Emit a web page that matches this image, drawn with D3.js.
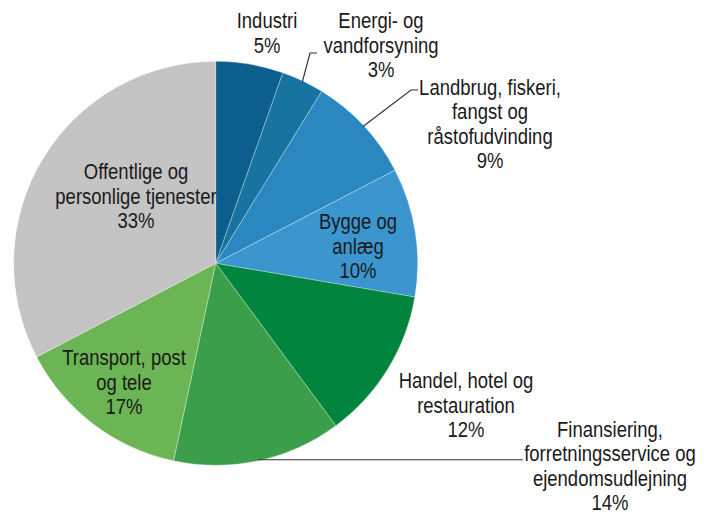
<!DOCTYPE html>
<html>
<head>
<meta charset="utf-8">
<script src="https://cdn.jsdelivr.net/npm/d3@7"></script>
<style>
  body { margin: 0; background: #fff; }
  text { font-family: "Liberation Sans", Arial, sans-serif; fill: #1a1a1a; }
</style>
</head>
<body>
<div id="chart"></div>
<script>
// sector names, printed percentages, and shares as drawn
let names = [
  ["Industri"],
  ["Energi- og", "vandforsyning"],
  ["Landbrug, fiskeri,", "fangst og", "råstofudvinding"],
  ["Bygge og", "anlæg"],
  ["Handel, hotel og", "restauration"],
  ["Finansiering,", "forretningsservice og", "ejendomsudlejning"],
  ["Transport, post", "og tele"],
  ["Offentlige og", "personlige tjenester"]
];
let pctLabels = ["5%", "3%", "9%", "10%", "12%", "14%", "17%", "33%"];
let shares = [5.4, 3.4, 8.6, 10.3, 12.2, 13.5, 14.0, 32.7];
let colors = ["#0b5e8e", "#17739f", "#2a87bf", "#3b96cf", "#00843e", "#3a9e4b", "#6bb554", "#c4c4c4"];

let w = 714, h = 515;
let cx = 215.7, cy = 263.3, r = 202;
let lineH = 24.5;
let squeeze = 0.86; // condensed look

// label block centres, and leader end points (null = no leader)
let labelAt = [[267, 33], [381, 45], [490, 124], [358, 246], [466, 405], [610, 466], [124, 382], [136, 196]];
let leaderEnd = [null, [317, 53], [418, 90], null, null, [523, 461], null, null];

let svg = d3.select("#chart").append("svg")
  .attr("width", w).attr("height", h);

let pie = d3.pie().sort(null).value(d => d);
let arcs = pie(shares);

let arc = d3.arc().innerRadius(0).outerRadius(r);
let edge = d3.arc().innerRadius(r - 1).outerRadius(r - 1);

let g = svg.append("g").attr("transform", `translate(${cx},${cy})`);

g.selectAll("path.slice")
  .data(arcs)
  .enter().append("path")
  .attr("class", "slice")
  .attr("d", arc)
  .attr("fill", (d, i) => colors[i])
  .attr("stroke", "rgba(255,255,255,0.5)")
  .attr("stroke-width", 0.6);

// leader lines
arcs.forEach((d, i) => {
  let end = leaderEnd[i];
  if (!end) return;
  let p = edge.centroid(d);
  let start = [p[0] + cx, p[1] + cy];
  let pts;
  if (Math.abs(end[1] - start[1]) < 3) {
    pts = [start, [end[0], start[1]]];
  } else {
    pts = [start, [end[0] - 7, end[1]], end];
  }
  svg.append("path")
    .attr("d", d3.line()(pts))
    .attr("fill", "none")
    .attr("stroke", "#333")
    .attr("stroke-width", 1.2);
});

// labels
names.forEach((lines, i) => {
  let all = lines.concat([pctLabels[i]]);
  let t = svg.append("text")
    .attr("transform", `translate(${labelAt[i][0]},${labelAt[i][1]}) scale(${squeeze},1)`)
    .attr("text-anchor", "middle")
    .attr("font-size", "21.5px");
  all.forEach((s, j) => {
    t.append("tspan")
      .attr("x", 0)
      .attr("y", (j - (all.length - 1) / 2) * lineH)
      .attr("dy", "0.36em")
      .text(s);
  });
});
</script>
</body>
</html>
